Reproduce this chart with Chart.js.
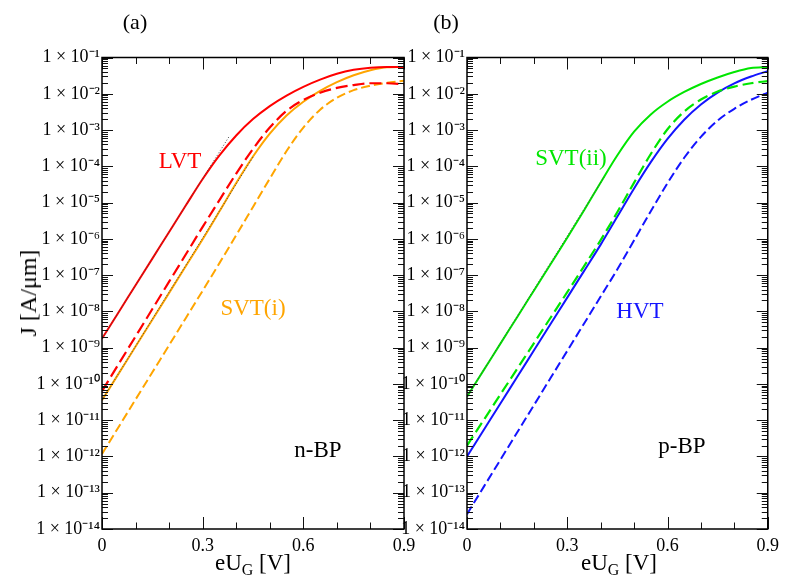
<!DOCTYPE html>
<html><head><meta charset="utf-8">
<script src="https://cdn.jsdelivr.net/npm/chart.js@4.4.1/dist/chart.umd.min.js"></script>
<style>
html,body{margin:0;padding:0;background:#fff;}
#wrap{position:relative;width:785px;height:583px;overflow:hidden;font-family:"Liberation Serif","Times New Roman",serif;color:#000;}
canvas{position:absolute;left:0;top:0;}
.t{position:absolute;transform:translate(-50%,-50%);white-space:nowrap;line-height:1;}
.sub{font-size:16px;position:relative;top:0.32em;}
</style></head><body>
<div id="wrap">
<canvas id="ca" width="785" height="583"></canvas>
<canvas id="cb" width="785" height="583"></canvas>
<div class="t" style="left:135px;top:22px;font-size:22px">(a)</div>
<div class="t" style="left:446px;top:22px;font-size:22px">(b)</div>
<div class="t" style="left:180px;top:160px;font-size:23px;color:#ff0000">LVT</div>
<div class="t" style="left:253px;top:307px;font-size:23px;color:#ffa500">SVT(i)</div>
<div class="t" style="left:318px;top:449px;font-size:23px">n-BP</div>
<div class="t" style="left:571px;top:157px;font-size:23px;color:#00e600">SVT(ii)</div>
<div class="t" style="left:640px;top:310px;font-size:23px;color:#1414ff">HVT</div>
<div class="t" style="left:682px;top:445px;font-size:23px">p-BP</div>
<div class="t" style="left:253px;top:562px;font-size:23px">eU<span class="sub">G</span> [V]</div>
<div class="t" style="left:619px;top:562px;font-size:23px">eU<span class="sub">G</span> [V]</div>
<div class="t" style="left:28px;top:293px;font-size:24px;transform:translate(-50%,-50%) rotate(-90deg)">J [A/μm]</div>
</div>
<script>
// ---- data (J in A/µm versus gate voltage in V) ----
const gateVoltage = [0, 0.05, 0.1, 0.15, 0.2, 0.25, 0.3, 0.35, 0.4, 0.45, 0.5, 0.55, 0.6, 0.65, 0.7, 0.75, 0.8, 0.85, 0.9];

// panel (a) n-BP
const lvtSolid   = [1.78e-9, 9.66e-9, 5.25e-8, 2.85e-7, 1.55e-6, 8.41e-6, 4.47e-5, 2.00e-4, 7.08e-4, 2.00e-3, 4.57e-3, 8.91e-3, 1.55e-2, 2.45e-2, 3.55e-2, 4.57e-2, 5.25e-2, 5.50e-2, 5.50e-2];
const lvtDashed  = [6.31e-11, 3.59e-10, 2.04e-9, 1.16e-8, 6.61e-8, 3.76e-7, 2.14e-6, 1.17e-5, 6.31e-5, 3.02e-4, 1.17e-3, 3.39e-3, 6.76e-3, 1.07e-2, 1.45e-2, 1.74e-2, 1.95e-2, 1.95e-2, 1.82e-2];
const svt1Solid  = [3.55e-11, 1.95e-10, 1.07e-9, 5.89e-9, 3.24e-8, 1.78e-7, 9.77e-7, 5.75e-6, 3.47e-5, 1.86e-4, 7.94e-4, 2.51e-3, 6.03e-3, 1.20e-2, 2.09e-2, 3.24e-2, 4.47e-2, 5.37e-2, 5.50e-2];
const svt1Dashed = [1.17e-12, 6.61e-12, 3.72e-11, 2.09e-10, 1.17e-9, 6.61e-9, 3.72e-8, 2.14e-7, 1.26e-6, 7.59e-6, 4.57e-5, 2.63e-4, 1.17e-3, 3.63e-3, 7.76e-3, 1.26e-2, 1.66e-2, 2.00e-2, 2.29e-2];
const lvtFitV  = [0, 0.38];
const lvtFitJ  = [1.78e-9, 6.9e-4];
const svt1FitV = [0, 0.45];
const svt1FitJ = [3.55e-11, 1.8e-4];

// panel (b) p-BP
const svt2Solid  = [4.47e-11, 2.40e-10, 1.29e-9, 6.92e-9, 3.72e-8, 2.00e-7, 1.07e-6, 6.03e-6, 3.59e-5, 2.02e-4, 9.02e-4, 2.69e-3, 6.03e-3, 1.12e-2, 1.86e-2, 2.82e-2, 3.98e-2, 5.13e-2, 5.50e-2];
const svt2Dashed = [2.00e-12, 1.01e-11, 5.13e-11, 2.60e-10, 1.32e-9, 6.68e-9, 3.39e-8, 1.74e-7, 9.23e-7, 5.50e-6, 3.55e-5, 2.19e-4, 1.05e-3, 3.24e-3, 6.92e-3, 1.15e-2, 1.58e-2, 1.95e-2, 2.24e-2];
const hvtSolid   = [1.00e-12, 5.37e-12, 2.88e-11, 1.55e-10, 8.32e-10, 4.47e-9, 2.40e-8, 1.29e-7, 6.92e-7, 4.12e-6, 2.45e-5, 1.30e-4, 5.69e-4, 1.93e-3, 5.07e-3, 1.08e-2, 1.93e-2, 2.99e-2, 4.22e-2];
const hvtDashed  = [2.57e-14, 1.45e-13, 8.13e-13, 4.57e-12, 2.57e-11, 1.45e-10, 8.13e-10, 4.57e-9, 2.57e-8, 1.45e-7, 9.12e-7, 5.75e-6, 3.43e-5, 1.72e-4, 6.46e-4, 1.82e-3, 3.85e-3, 6.84e-3, 1.08e-2];
const svt2FitV = [0, 0.41];
const svt2FitJ = [4.47e-11, 5.0e-5];

// ticks
const xMajorTicks = [0, 0.3, 0.6, 0.9];
const xTickLabels = ['0', '0.3', '0.6', '0.9'];
const xMinorTicks = [0.1, 0.2, 0.4, 0.5, 0.7, 0.8];
const yMajorTicks = [1e-14, 1e-13, 1e-12, 1e-11, 1e-10, 1e-9, 1e-8, 1e-7, 1e-6, 1e-5, 1e-4, 1e-3, 1e-2, 1e-1];
const yTickLabels = ['1 × 10⁻¹⁴', '1 × 10⁻¹³', '1 × 10⁻¹²', '1 × 10⁻¹¹', '1 × 10⁻¹⁰', '1 × 10⁻⁹', '1 × 10⁻⁸', '1 × 10⁻⁷', '1 × 10⁻⁶', '1 × 10⁻⁵', '1 × 10⁻⁴', '1 × 10⁻³', '1 × 10⁻²', '1 × 10⁻¹'];

// ---- helpers ----
const pts = (xs, ys) => xs.map((v, i) => ({x: v, y: ys[i]}));
const curve = (xs, ys, color, dash, width) => ({
  data: pts(xs, ys), borderColor: color, borderWidth: width || 2, borderDash: dash || [],
  pointRadius: 0, fill: false, cubicInterpolationMode: 'monotone'
});
const fitLine = (xs, ys) => ({
  data: pts(xs, ys), borderColor: '#444', borderWidth: 1, borderDash: [1, 2],
  pointRadius: 0, fill: false, tension: 0
});

const frameTicks = {
  id: 'frameTicks',
  afterDatasetsDraw(chart) {
    const {ctx, chartArea: a, scales: {x, y}} = chart;
    ctx.save();
    ctx.strokeStyle = '#111';
    ctx.lineWidth = 1;
    const seg = (x1, y1, x2, y2) => { ctx.beginPath(); ctx.moveTo(x1, y1); ctx.lineTo(x2, y2); ctx.stroke(); };
    yMajorTicks.forEach((d, k) => {
      for (let m = 1; m <= 9; m++) {
        if (k === yMajorTicks.length - 1 && m > 1) break;
        const py = Math.round(y.getPixelForValue(m * d)) + 0.5;
        const len = m === 1 ? 11 : 6;
        seg(a.left, py, a.left + len, py);
        seg(a.right - len, py, a.right, py);
      }
    });
    xMajorTicks.forEach(v => {
      const px = Math.round(x.getPixelForValue(v)) + 0.5;
      seg(px, a.bottom, px, a.bottom - 12);
      seg(px, a.top, px, a.top + 12);
    });
    xMinorTicks.forEach(v => {
      const px = Math.round(x.getPixelForValue(v)) + 0.5;
      seg(px, a.bottom, px, a.bottom - 6.5);
      seg(px, a.top, px, a.top + 6.5);
    });
    ctx.lineWidth = 1.5;
    ctx.strokeStyle = '#000';
    ctx.strokeRect(a.left, a.top, a.right - a.left, a.bottom - a.top);
    ctx.restore();
  }
};

function makePanel(id, area, datasets) {
  const font = {family: '"Liberation Serif", "Times New Roman", serif', size: 18};
  return new Chart(document.getElementById(id), {
    type: 'line',
    data: {datasets},
    options: {
      responsive: false, animation: false, devicePixelRatio: 1,
      layout: {padding: {left: 0, top: area.top, right: 785 - area.right, bottom: 0}},
      plugins: {legend: {display: false}, tooltip: {enabled: false}},
      scales: {
        x: {
          type: 'linear', min: 0, max: 0.9,
          grid: {display: false, drawTicks: false, tickLength: 0},
          border: {display: false},
          afterBuildTicks: s => { s.ticks = xMajorTicks.map(v => ({value: v})); },
          afterFit: s => { s.height = 583 - area.bottom; },
          ticks: {autoSkip: false, maxRotation: 0, minRotation: 0, padding: 6, color: '#000', font,
                  callback: (v, i) => xTickLabels[i]}
        },
        y: {
          type: 'logarithmic', min: 1e-14, max: 1e-1,
          grid: {display: false, drawTicks: false, tickLength: 0},
          border: {display: false},
          afterBuildTicks: s => { s.ticks = yMajorTicks.map(v => ({value: v})); },
          afterFit: s => { s.width = area.left; },
          ticks: {autoSkip: false, padding: 2, color: '#000', font,
                  callback: (v, i) => yTickLabels[i]}
        }
      }
    },
    plugins: [frameTicks]
  });
}

makePanel('ca', {left: 102, right: 404, top: 57.5, bottom: 529}, [
  fitLine(lvtFitV, lvtFitJ),
  fitLine(svt1FitV, svt1FitJ),
  curve(gateVoltage, lvtSolid, '#ff0000'),
  curve(gateVoltage, lvtDashed, '#ff0000', [12, 5], 2.2),
  curve(gateVoltage, svt1Solid, '#ffa500'),
  curve(gateVoltage, svt1Dashed, '#ffa500', [9, 4], 2)
]);

makePanel('cb', {left: 467, right: 772, top: 57.5, bottom: 529}, [
  fitLine(svt2FitV, svt2FitJ),
  curve(gateVoltage, svt2Solid, '#00e600'),
  curve(gateVoltage, svt2Dashed, '#00e600', [11, 5], 2.2),
  curve(gateVoltage, hvtSolid, '#1414ff'),
  curve(gateVoltage, hvtDashed, '#1414ff', [9, 4], 2)
]);
</script>
</body></html>
